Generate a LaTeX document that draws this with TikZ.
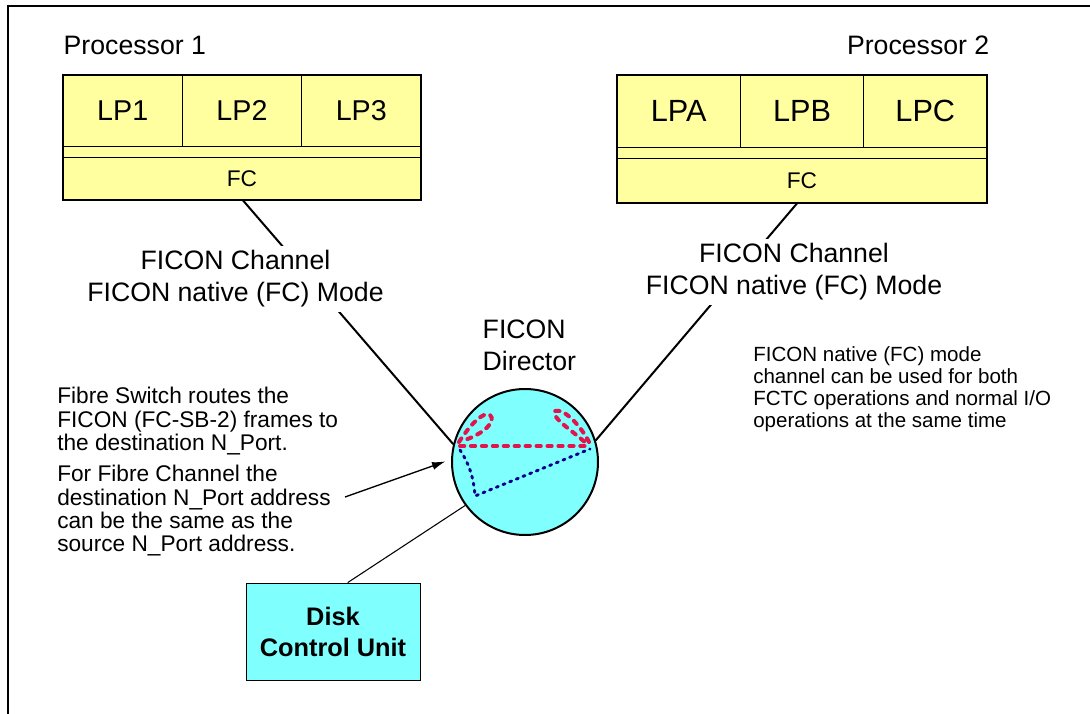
\documentclass[tikz,border=0pt]{standalone}
\usepackage{fontspec}
\setmainfont{Liberation Sans}
\usetikzlibrary{arrows.meta}
\definecolor{procyellow}{RGB}{255,255,160}
\definecolor{dircyan}{RGB}{128,255,255}
\definecolor{pathred}{RGB}{225,20,75}
\definecolor{pathblue}{RGB}{0,0,140}
\tikzset{big/.style = {font=\fontsize{20}{24}\selectfont},
         lpcell/.style = {draw, line width=0.6pt, fill=procyellow, inner sep=0pt,
                          font=\fontsize{21.5}{24}\selectfont},
         fccell/.style = {draw, line width=0.6pt, fill=procyellow, inner sep=0pt,
                          font=\fontsize{17}{20}\selectfont},
         wire/.style = {line width=1.5pt},
         redpath/.style = {pathred, line width=3pt, line cap=round,
                           dash pattern=on 3.2pt off 5pt},
         bluepath/.style = {pathblue, line width=2.2pt, line cap=round,
                            dash pattern=on 1.6pt off 3.8pt}}

\begin{document}
\begin{tikzpicture}[x=0.75pt, y=-0.75pt]
    \useasboundingbox (0,0) rectangle (1090,714);
    \draw[line width=1.2pt] (8,714) -- (8,6) -- (1090,6);

    % Processor 1
    \node[big, anchor=west] (proc1) at (59,45) {Processor 1};
    \node[lpcell, minimum width=89.5pt, minimum height=53.25pt] (lp1) at (122.7,110.5) {LP1};
    \node[lpcell, minimum width=89.5pt, minimum height=53.25pt] (lp2) at (242,110.5) {LP2};
    \node[lpcell, minimum width=89.5pt, minimum height=53.25pt] (lp3) at (361.3,110.5) {LP3};
    \node[fccell, minimum width=268.5pt, minimum height=8.25pt] (strip1) at (242,151.5) {};
    \node[fccell, minimum width=268.5pt, minimum height=32.25pt] (fc1) at (242,178.5) {FC};
    \draw[line width=1.5pt] (lp1.north west) rectangle (fc1.south east);

    % Processor 2
    \node[big, anchor=east] (proc2) at (994,45) {Processor 2};
    \node[lpcell, minimum width=92.5pt, minimum height=54pt, font=\fontsize{23}{26}\selectfont] (lpa) at (678.7,111) {LPA};
    \node[lpcell, minimum width=92.5pt, minimum height=54pt, font=\fontsize{23}{26}\selectfont] (lpb) at (802,111) {LPB};
    \node[lpcell, minimum width=92.5pt, minimum height=54pt, font=\fontsize{23}{26}\selectfont] (lpc) at (925.3,111) {LPC};
    \node[fccell, minimum width=277.5pt, minimum height=8.25pt] (strip2) at (802,152.5) {};
    \node[fccell, minimum width=277.5pt, minimum height=33.75pt] (fc2) at (802,180.5) {FC};
    \draw[line width=1.5pt] (lpa.north west) rectangle (fc2.south east);

    % director and control unit
    \node[circle, draw, line width=1.5pt, fill=dircyan, minimum size=109.5pt, inner sep=0pt] (dir) at (525,462) {};
    \node[big, align=left, anchor=west] (dirlabel) at (478,345) {FICON\\Director};
    \node[draw, line width=0.6pt, fill=dircyan, minimum width=130.5pt, minimum height=72.75pt,
          align=center, font=\fontsize{19}{23.25}\selectfont\bfseries] (dcu) at (333,631.5) {Disk\\Control Unit};

    % links
    \draw[wire] ([xshift=0.75pt]fc1.south) -- (dir.166);
    \draw[wire] ([xshift=-3.75pt]fc2.south) -- (dir.17);
    \draw[line width=0.8pt] ([xshift=11pt]dcu.north) -- (dir.216);

    \node[big, fill=white, align=center] (chan1) at (235.5,279) {FICON Channel\\FICON native (FC) Mode};
    \node[big, fill=white, align=center] (chan2) at (794,272) {FICON Channel\\FICON native (FC) Mode};

    % notes
    \node[anchor=north west, align=left, inner sep=0pt, font=\fontsize{17}{17.6}\selectfont] (switchnote) at (57,387)
        {Fibre Switch routes the\\FICON (FC-SB-2) frames to\\the destination N\_Port.\\[5.6pt]
         For Fibre Channel the\\destination N\_Port address\\can be the same as the\\source N\_Port address.};
    \coordinate (notetip) at (345,497);
    \draw[-{Latex[length=10pt,width=6pt]}, line width=1pt, shorten >=4.5pt] (notetip) -- (dir.178);

    \node[anchor=north west, align=left, inner sep=0pt, font=\fontsize{15.4}{16.5}\selectfont] (fcnote) at (753,346)
        {FICON native (FC) mode\\channel can be used for both\\FCTC operations and normal I/O\\operations at the same time};

    % routes inside the director
    \draw[redpath] (459,442) .. controls (470,425) and (483,411) .. (490,415)
                   .. controls (497,421) and (484,434) .. (462,441);
    \draw[redpath] (589,442) .. controls (582,428) and (565,408) .. (555,411)
                   .. controls (551,418) and (572,430) .. (588,445);
    \draw[redpath] (460,446) -- (590,446);
    \draw[bluepath] (460,450) .. controls (470,465) and (474,480) .. (475,496) -- (590,449);
\end{tikzpicture}
\end{document}
